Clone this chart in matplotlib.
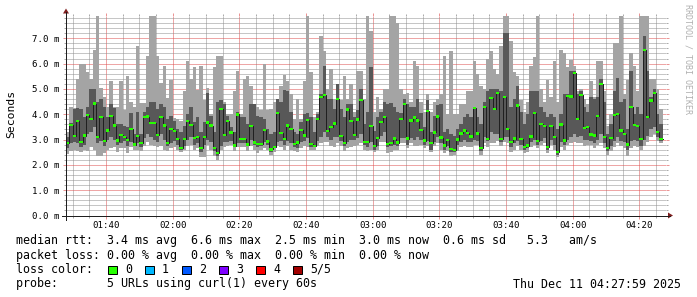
"""SmokePing 风格的 HTTP 延迟图 (curl 探测 5 个 URL, 最近 3 小时)。

用法: python plot.py  -> out.png
"""

import matplotlib
matplotlib.use("Agg")
import matplotlib.pyplot as plt
import matplotlib.ticker as mticker
from matplotlib.lines import Line2D
from matplotlib.patches import Polygon, Rectangle
import numpy as np

plt.rcParams["font.family"] = ["DejaVu Sans Mono"]

# 每分钟一个样本, 01:28 开始 (单位: 当天的分钟数)
START_MIN = 88
WINDOW_MIN = 180
Y_TOP = 7.9  # smokeping 的 --upper-limit

# 中位数 rtt (ms)
median = [
    2.87, 3.58, 3.13, 3.72, 2.9, 3.16, 3.96, 3.8, 4.42, 3.1, 3.88, 2.93, 3.36, 3.93, 3.55, 2.96, 3.18, 3.1, 2.99, 3.42, 2.8, 3.15,
    2.85, 3.88, 3.91, 3.66, 3.64, 3.18, 3.88, 3.55, 2.86, 3.41, 3.34, 3.01, 2.68, 3.01, 3.74, 3.58, 3.05, 3.09, 2.66, 3.09, 3.67, 3.55,
    2.66, 2.47, 4.22, 3.17, 3.72, 3.28, 2.76, 3.99, 3.03, 3.03, 2.8, 3.53, 2.88, 2.83, 2.83, 3.37, 2.92, 2.61, 2.72, 4.05, 3.25, 3.03, 3.55,
    3.43, 2.82, 2.88, 3.37, 3.16, 3.76, 2.82, 2.75, 3.8, 4.68, 4.77, 3.33, 3.49, 3.63, 4.59, 3.15, 2.87, 4.19, 3.74, 3.18, 3.79, 4.57, 2.91,
    2.91, 3.53, 2.74, 3.05, 3.7, 3.89, 2.83, 2.86, 3.04, 2.88, 3.8, 4.41, 3.04, 3.75, 3.87, 3.75, 3.39, 2.96, 4.14, 2.86, 3.28, 3.91,
    3.08, 2.76, 2.99, 2.62, 2.6, 3.0, 3.24, 3.36, 3.25, 3.12, 4.26, 3.24, 2.66, 4.3, 3.01, 4.63, 4.2, 4.83, 3.01, 4.67, 3.42, 2.91,
    3.04, 4.34, 3.01, 2.7, 2.76, 3.12, 4.05, 2.93, 3.62, 3.53, 2.7, 3.54, 3.09, 2.51, 3.59, 2.96, 4.72, 4.7, 5.64, 3.82, 4.76, 3.45, 3.51,
    3.2, 3.16, 3.92, 5.2, 3.09, 2.68, 3.05, 3.97, 4.01, 3.36, 3.22, 2.8, 4.3, 3.58, 3.54, 3.01, 6.55, 3.88, 4.54, 4.84, 3.3, 3.01,
]

# 5 次探测排序后的最大 / 第 4 / 第 2 / 最小值 (ms)
ping_max = [
    3.3, 4.3, 4.25, 5.4, 6.0, 6.0, 5.66, 5.4, 6.55, 7.9, 5.05, 4.7, 4.3, 5.3, 4.3, 4.3, 5.3, 4.15, 5.5, 4.5, 4.3, 6.7,
    4.45, 4.45, 6.3, 7.9, 7.9, 6.3, 5.25, 5.9, 4.65, 5.35, 3.85, 3.8, 3.75, 4.9, 6.1, 5.4, 5.85, 4.95, 5.9, 4.55, 5.05, 4.0,
    5.85, 6.3, 6.3, 4.5, 4.0, 4.0, 4.9, 5.7, 4.0, 5.4, 5.5, 5.1, 4.4, 4.3, 4.15, 6.0, 4.15, 4.2, 4.5, 4.6, 5.1, 5.55, 5.3,
    4.8, 3.8, 4.6, 3.8, 5.3, 7.9, 5.65, 3.9, 4.1, 7.1, 6.5, 5.0, 5.8, 4.6, 5.2, 4.55, 5.5, 4.6, 5.2, 4.1, 5.7, 5.7, 4.6,
    7.9, 7.3, 4.1, 4.7, 4.2, 5.0, 5.0, 7.9, 7.9, 7.6, 5.0, 4.8, 4.85, 4.5, 6.1, 5.9, 4.5, 4.1, 4.8, 4.1, 4.5, 4.6,
    4.8, 6.3, 4.0, 6.5, 4.0, 4.0, 4.4, 4.4, 4.9, 4.9, 6.1, 5.6, 5.1, 5.0, 6.2, 6.5, 5.8, 5.6, 6.7, 7.9, 7.9, 6.9,
    5.66, 5.5, 4.55, 4.1, 4.5, 5.9, 6.25, 7.9, 5.0, 4.5, 5.35, 4.7, 6.1, 4.5, 6.55, 6.4, 5.85, 6.15, 5.9, 4.9, 5.0, 4.6, 4.4,
    5.3, 4.7, 6.1, 6.1, 4.9, 3.55, 4.0, 6.8, 6.8, 7.9, 4.8, 5.35, 6.4, 5.9, 4.9, 7.9, 7.9, 7.9, 5.4, 5.4, 5.0, 4.2,
]
ping_hi = [
    3.1, 3.65, 4.2, 4.25, 4.2, 3.9, 4.3, 4.98, 4.98, 4.5, 4.6, 4.3, 3.9, 4.4, 4.25, 3.6, 3.6, 3.55, 3.5, 4.05, 3.2, 4.1,
    3.2, 4.1, 4.3, 4.5, 4.5, 4.2, 4.4, 4.3, 3.8, 3.95, 3.75, 3.4, 3.3, 3.55, 4.0, 4.3, 3.7, 3.9, 3.3, 3.7, 4.85, 3.95,
    3.3, 4.5, 4.55, 4.4, 3.95, 3.5, 3.3, 4.1, 3.9, 3.9, 3.6, 4.4, 4.4, 3.95, 3.9, 3.8, 3.4, 3.2, 3.3, 4.6, 4.5, 4.95, 4.9,
    4.1, 3.3, 3.2, 3.7, 4.0, 4.05, 3.9, 3.3, 4.0, 4.8, 5.9, 4.6, 4.6, 4.2, 5.2, 4.2, 3.9, 4.4, 4.4, 3.9, 4.15, 5.0, 3.6,
    4.1, 5.85, 3.35, 3.9, 4.1, 4.5, 4.4, 4.45, 4.3, 4.1, 4.05, 4.6, 4.4, 4.3, 4.3, 4.6, 4.05, 3.5, 4.55, 3.3, 3.95, 4.35,
    4.4, 3.3, 3.4, 3.2, 3.15, 3.4, 3.6, 3.9, 4.0, 3.9, 4.3, 3.9, 3.6, 4.5, 4.9, 5.0, 5.0, 5.0, 4.9, 7.2, 7.2, 4.3,
    4.6, 5.1, 4.1, 3.6, 4.0, 4.9, 4.9, 4.9, 4.3, 4.1, 3.9, 4.0, 3.9, 3.4, 4.0, 4.8, 4.8, 5.7, 5.7, 4.8, 4.9, 4.3, 4.1,
    4.7, 4.6, 4.7, 5.4, 4.5, 3.2, 3.6, 4.9, 5.45, 4.5, 4.6, 3.4, 5.7, 4.0, 4.3, 4.0, 7.1, 5.7, 4.7, 5.0, 4.0, 3.6,
]
ping_lo = [
    2.65, 2.85, 2.9, 2.85, 2.7, 2.8, 3.2, 3.3, 3.5, 2.85, 2.95, 2.75, 3.0, 3.1, 3.0, 2.8, 2.85, 2.95, 2.75, 2.9, 2.75, 2.85,
    2.7, 3.05, 3.2, 3.1, 3.0, 2.9, 3.2, 3.0, 2.75, 2.85, 2.95, 2.8, 2.6, 2.75, 3.0, 3.1, 2.8, 2.85, 2.5, 2.8, 3.0, 2.9,
    2.55, 2.35, 2.75, 2.9, 2.9, 2.95, 2.7, 2.85, 2.85, 2.85, 2.75, 3.0, 2.8, 2.7, 2.75, 2.9, 2.8, 2.5, 2.65, 2.9, 2.95, 2.8, 2.95,
    2.85, 2.7, 2.65, 2.9, 2.95, 3.05, 2.7, 2.7, 2.95, 3.1, 3.3, 3.1, 3.0, 3.1, 3.1, 2.95, 2.75, 2.9, 3.0, 3.0, 3.05, 3.2, 2.8,
    2.7, 2.9, 2.6, 2.75, 3.15, 3.3, 2.7, 2.75, 2.8, 2.75, 3.05, 3.05, 2.8, 3.05, 3.0, 3.1, 3.0, 2.8, 2.95, 2.6, 2.9, 3.1,
    2.85, 2.6, 2.75, 2.5, 2.5, 2.8, 2.9, 3.0, 2.9, 2.9, 3.0, 2.95, 2.55, 3.1, 2.95, 3.3, 3.2, 3.2, 2.9, 3.1, 3.1, 2.7,
    2.85, 2.95, 2.8, 2.6, 2.65, 2.9, 3.0, 2.8, 2.95, 3.05, 2.6, 3.0, 2.8, 2.4, 2.9, 2.8, 3.0, 3.1, 3.2, 3.1, 3.15, 3.0, 3.0,
    2.95, 2.85, 3.0, 3.2, 2.85, 2.55, 2.75, 2.95, 3.1, 2.95, 2.9, 2.6, 2.95, 3.0, 2.95, 2.75, 3.0, 3.15, 3.4, 3.5, 3.1, 2.95,
]
ping_min = [
    2.42, 2.55, 2.6, 2.55, 2.5, 2.6, 2.55, 2.7, 2.6, 2.35, 2.35, 2.45, 2.6, 2.65, 2.7, 2.5, 2.65, 2.65, 2.45, 2.7, 2.6, 2.6,
    2.55, 2.75, 2.9, 2.8, 2.75, 2.7, 2.75, 2.6, 2.55, 2.65, 2.7, 2.6, 2.5, 2.6, 2.75, 2.8, 2.6, 2.65, 2.3, 2.3, 2.8, 2.6,
    2.35, 2.2, 2.6, 2.7, 2.75, 2.8, 2.55, 2.7, 2.7, 2.7, 2.55, 2.75, 2.6, 2.45, 2.6, 2.65, 2.6, 2.4, 2.5, 2.75, 2.7, 2.6, 2.75,
    2.6, 2.55, 2.5, 2.65, 2.75, 2.7, 2.6, 2.6, 2.75, 2.85, 2.9, 2.9, 2.75, 2.7, 2.85, 2.75, 2.55, 2.65, 2.7, 2.75, 2.8, 2.85, 2.6,
    2.55, 2.6, 2.5, 2.6, 2.9, 2.9, 2.45, 2.5, 2.6, 2.6, 2.85, 2.85, 2.65, 2.85, 2.75, 2.75, 2.8, 2.65, 2.75, 2.5, 2.75, 2.85,
    2.6, 2.45, 2.55, 2.35, 2.4, 2.55, 2.7, 2.75, 2.7, 2.7, 2.8, 2.8, 2.4, 2.85, 2.7, 2.85, 2.85, 2.95, 2.75, 2.9, 2.85, 2.5,
    2.6, 2.75, 2.6, 2.45, 2.5, 2.7, 2.8, 2.65, 2.8, 2.85, 2.45, 2.8, 2.6, 2.3, 2.7, 2.6, 2.8, 2.85, 2.9, 2.85, 2.85, 2.75, 2.8,
    2.8, 2.65, 2.8, 2.85, 2.65, 2.4, 2.55, 2.7, 2.85, 2.75, 2.65, 2.35, 2.65, 2.75, 2.7, 2.6, 2.75, 2.9, 3.1, 3.2, 2.95, 2.85,
]

time_labels = ["01:40", "02:00", "02:20", "02:40", "03:00", "03:20", "03:40", "04:00", "04:20"]
loss_labels = ["0", "1", "2", "3", "4", "5/5"]
loss_colors = ["#26ff00", "#00b8ff", "#0059ff", "#7e00ff", "#ff0000", "#a10000"]

rtt_line = "median rtt:  3.4 ms avg  6.6 ms max  2.5 ms min  3.0 ms now  0.6 ms sd   5.3   am/s"
loss_line = "packet loss: 0.00 % avg  0.00 % max  0.00 % min  0.00 % now"
probe_line = "probe:       5 URLs using curl(1) every 60s"
stamp = "Thu Dec 11 04:27:59 2025"

# rrdtool 默认配色
GRID = (0.56, 0.56, 0.56, 0.75)
MGRID = (0.87, 0.31, 0.31, 0.60)
ARROW = "#801f1f"
AXIS = "#1f1f1f"

W, H = 697, 297
X0, Y0 = 66, 215.5  # 画布原点 (像素)
XS, YS = 600, 200
LEGEND_FS = 8.4


def fx(x):
    return x / W


def fy(y):
    return 1 - y / H


def main():
    fig = plt.figure(figsize=(W / 100, H / 100), dpi=100)
    ax = fig.add_axes([fx(X0), fy(Y0), XS / W, YS / H])

    n = len(median)
    t = START_MIN + np.arange(n + 1)

    def ext(a):
        return np.append(a, a[-1])

    # smoke: 外层 (min..max) 与内层 (2nd..4th)
    ax.fill_between(t, ext(ping_min), ext(ping_max), step="post", color="#a4a4a4", lw=0, zorder=1)
    ax.fill_between(t, ext(ping_lo), ext(ping_hi), step="post", color="#585858", lw=0, zorder=1.1)
    ax.step(t, ext(median), where="post", color="#202020", lw=0.72, zorder=2)
    med = np.array(median)
    ax.bar(t[:-1], 0.09, bottom=med - 0.045, width=1, align="edge", color=loss_colors[0], lw=0, zorder=2.2)

    ax.set_xlim(START_MIN, START_MIN + WINDOW_MIN)
    ax.set_ylim(0, Y_TOP)
    for s in ax.spines.values():
        s.set_visible(False)

    tick_min = [int(s[:2]) * 60 + int(s[3:]) for s in time_labels]
    ax.set_xticks(tick_min, time_labels)
    ax.xaxis.set_minor_locator(mticker.MultipleLocator(5))
    ax.set_yticks(np.arange(8))
    ax.yaxis.set_major_formatter(mticker.FuncFormatter(lambda v, _: f"{v:.1f} m"))
    ax.yaxis.set_minor_locator(mticker.MultipleLocator(0.2))

    # rrdtool 的点状网格, 放在 smoke 下面
    ax.set_axisbelow(True)
    ax.grid(which="minor", color=GRID, lw=0.72, ls=(0, (1, 1)))
    ax.grid(which="major", color=MGRID, lw=0.72, ls=(0, (1, 1)))
    ax.tick_params(which="major", length=2.16, width=0.72, color=MGRID, labelsize=6.6,
                   top=True, right=True, direction="out")
    ax.tick_params(which="minor", length=1.44, width=0.72, color=GRID, top=True, right=True, direction="out")
    ax.tick_params(axis="x", which="major", pad=1.5)
    ax.tick_params(axis="y", which="major", pad=2.2)

    # 坐标轴与箭头
    fig.add_artist(Line2D([fx(X0 - 4), fx(X0 + XS + 4)], [fy(Y0), fy(Y0)], color=AXIS, lw=0.72))
    fig.add_artist(Line2D([fx(X0), fx(X0)], [fy(Y0 + 4), fy(Y0 - YS - 4)], color=AXIS, lw=0.72))
    fig.add_artist(Polygon([(fx(X0 + XS + 2), fy(Y0 - 3)), (fx(X0 + XS + 2), fy(Y0 + 3)),
                            (fx(X0 + XS + 7), fy(Y0))], closed=True, color=ARROW, lw=0))
    fig.add_artist(Polygon([(fx(X0 - 3), fy(Y0 - YS - 2)), (fx(X0 + 3), fy(Y0 - YS - 2)),
                            (fx(X0), fy(Y0 - YS - 7))], closed=True, color=ARROW, lw=0))

    fig.text(fx(11), fy(114), "Seconds", rotation=90, ha="center", va="center", fontsize=8.2)
    fig.text(fx(688), fy(59), "RRDTOOL / TOBI OETIKER", rotation=270, ha="center", va="center",
             fontsize=6.0, color="#b0b0b0")

    # 图例
    fig.text(fx(16), fy(244), rtt_line, fontsize=LEGEND_FS, va="baseline")
    fig.text(fx(16), fy(258.5), loss_line, fontsize=LEGEND_FS, va="baseline")
    fig.text(fx(16), fy(273), "loss color:", fontsize=LEGEND_FS, va="baseline")
    for k, (lab, col) in enumerate(zip(loss_labels, loss_colors)):
        bx = 108 + 37 * k
        fig.add_artist(Rectangle((fx(bx), fy(273.7)), 8.5 / W, 8.2 / H, facecolor=col,
                                 edgecolor="black", lw=0.72))
        fig.text(fx(bx + 17), fy(273), lab, fontsize=LEGEND_FS, va="baseline")
    fig.text(fx(16), fy(287.5), probe_line, fontsize=LEGEND_FS, va="baseline")
    fig.text(fx(681), fy(287.5), stamp, fontsize=LEGEND_FS, va="baseline", ha="right")

    fig.savefig("out.png", dpi=100)


if __name__ == "__main__":
    main()
